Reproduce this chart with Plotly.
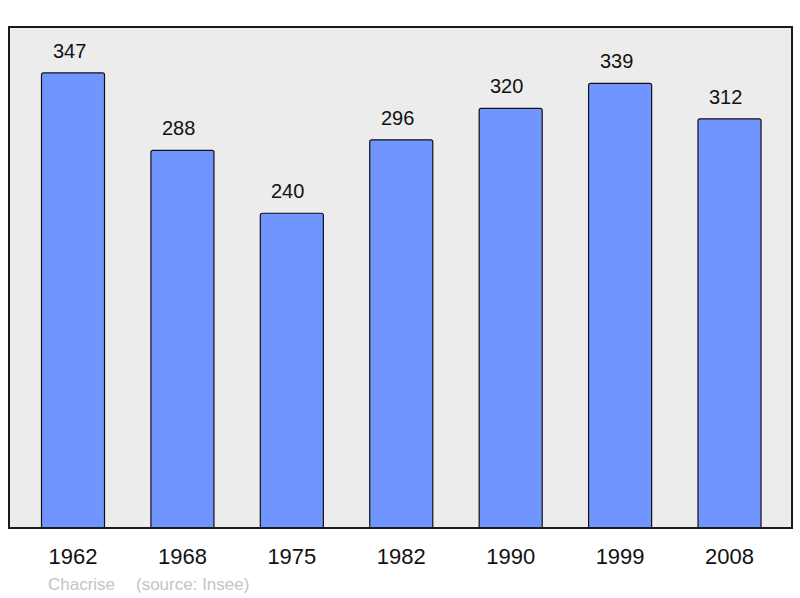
import plotly.graph_objects as go

years = ["1962", "1968", "1975", "1982", "1990", "1999", "2008"]
population = [347, 288, 240, 296, 320, 339, 312]

fig = go.Figure(go.Bar(
    x=years, y=population,
    width=0.576,
    marker=dict(color="#7095ff", line=dict(color="#111111", width=1.2), cornerradius=2),
    hoverinfo="x+y",
))

# value labels above each bar (category index as x)
for i, v in enumerate(population):
    fig.add_annotation(x=i, y=v, text=str(v), showarrow=False, yanchor="bottom",
                       yshift=9, xshift=-4, font=dict(size=20, color="#111111"))

fig.add_annotation(x=(46 - 9) / 783, y=-0.112, xref="paper", yref="paper", text="Chacrise",
                   showarrow=False, xanchor="left", yanchor="middle",
                   font=dict(size=17, color="#c4c4c4"))
fig.add_annotation(x=(134 - 9) / 783, y=-0.112, xref="paper", yref="paper", text="(source: Insee)",
                   showarrow=False, xanchor="left", yanchor="middle",
                   font=dict(size=17, color="#c4c4c4"))

# frame round the plot area
fig.add_shape(type="rect", xref="paper", yref="paper", x0=0, y0=0, x1=1, y1=1,
              line=dict(color="#1a1a1a", width=2), layer="above")

fig.update_layout(
    width=800, height=598,
    margin=dict(l=9, r=8, t=27, b=70),
    paper_bgcolor="white", plot_bgcolor="#ececec",
    font=dict(family="Liberation Sans, Arial, sans-serif", color="#111111"),
    showlegend=False,
)
fig.update_xaxes(type="category", range=[-0.585, 6.571], showgrid=False, zeroline=False,
                 ticks="outside", ticklen=9, tickcolor="rgba(0,0,0,0)",
                 tickfont=dict(size=22, color="#111111"))
fig.update_yaxes(range=[0, 382], showgrid=False, zeroline=False, showticklabels=False)

fig.write_html("out.html", config={"displayModeBar": False},
               post_script="document.body.style.margin='0';")
